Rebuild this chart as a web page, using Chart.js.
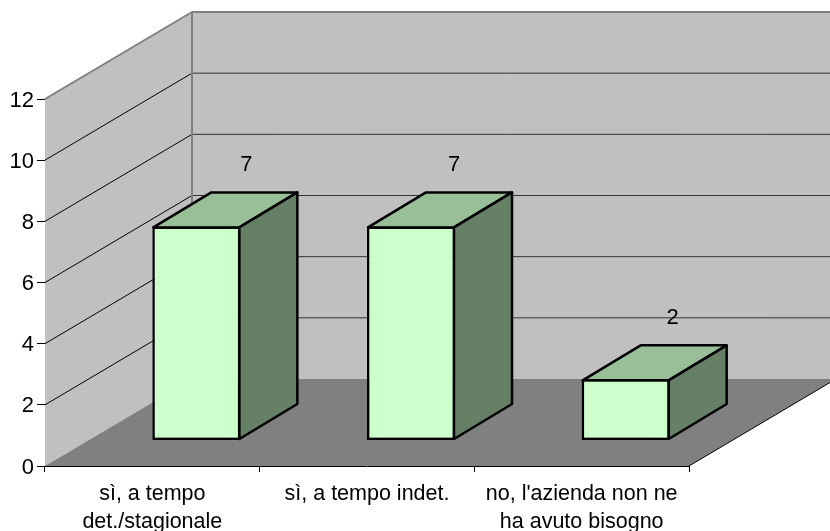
<!DOCTYPE html>
<html>
<head>
<meta charset="utf-8">
<style>
  html, body { margin: 0; padding: 0; background: #fff; }
  canvas { display: block; }
</style>
<script src="https://cdn.jsdelivr.net/npm/chart.js@4/dist/chart.umd.js"></script>
</head>
<body>
<canvas id="chart" width="830" height="531"></canvas>
<script>
const categories = [
  ["sì, a tempo", "det./stagionale"],
  "sì, a tempo indet.",
  ["no, l'azienda non ne", "ha avuto bisogno"],
];
const values = [7, 7, 2];
const yTicks = [0, 2, 4, 6, 8, 10, 12];

// 3d look: how far the back wall and the boxes are pushed
const wallDepth = { x: 147, y: -87 };
const barDepth = { x: 58, y: -35 };
const barShift = { x: 44, y: -25.5 };

const fontName = "'Liberation Sans', Arial, sans-serif";

const poly = (ctx, pts, fill, stroke, lw) => {
  ctx.beginPath();
  pts.forEach((p, i) => (i ? ctx.lineTo(p[0], p[1]) : ctx.moveTo(p[0], p[1])));
  ctx.closePath();
  if (fill) {
    ctx.fillStyle = fill;
    ctx.fill();
  }
  if (stroke) {
    ctx.strokeStyle = stroke;
    ctx.lineWidth = lw;
    ctx.stroke();
  }
};

const line = (ctx, x1, y1, x2, y2, color, lw) => {
  ctx.beginPath();
  ctx.moveTo(x1, y1);
  ctx.lineTo(x2, y2);
  ctx.strokeStyle = color;
  ctx.lineWidth = lw;
  ctx.stroke();
};

const walls3d = {
  id: "walls3d",
  beforeDatasetsDraw(chart) {
    const { ctx, chartArea: a, scales } = chart;
    const y = scales.y;
    const dx = wallDepth.x, dy = wallDepth.y;
    const y0 = y.getPixelForValue(0);
    const yMax = y.getPixelForValue(12);
    ctx.save();
    // left wall + back wall
    poly(ctx, [[a.left, yMax], [a.left + dx, yMax + dy], [a.left + dx, y0 + dy], [a.left, y0]], "#c0c0c0");
    poly(ctx, [[a.left + dx, yMax + dy], [a.right + dx, yMax + dy], [a.right + dx, y0 + dy], [a.left + dx, y0 + dy]], "#c0c0c0");
    // floor
    poly(ctx, [[a.left, y0], [a.right, y0], [a.right + dx, y0 + dy], [a.left + dx, y0 + dy]], "#808080");
    line(ctx, a.right, y0, a.right + dx, y0 + dy, "#000", 1);
    // grid lines
    yTicks.forEach((t) => {
      if (t === 0 || t === 12) return;
      const p = y.getPixelForValue(t);
      line(ctx, a.left, p, a.left + dx, p + dy, "#000", 1);
      line(ctx, a.left + dx, p + dy, a.right + dx, p + dy, "#333", 1);
    });
    // wall borders
    line(ctx, a.left, yMax, a.left + dx, yMax + dy, "#808080", 2);
    line(ctx, a.left + dx, yMax + dy, a.right + dx, yMax + dy, "#808080", 2);
    line(ctx, a.left + dx, yMax + dy, a.left + dx, y0 + dy, "#808080", 2);
    ctx.restore();
  },
  beforeDatasetDraw(chart, args) {
    const { ctx } = chart;
    ctx.save();
    ctx.translate(barShift.x, barShift.y);
    ctx.lineJoin = "round";
    args.meta.data.forEach((el) => {
      const half = el.width / 2;
      const l = el.x - half + 1, r = el.x + half - 1;
      const dx = barDepth.x, dy = barDepth.y;
      poly(ctx, [[l, el.y + 1], [r, el.y + 1], [r + dx, el.y + 1 + dy], [l + dx, el.y + 1 + dy]], "#99bf99", "#000", 2.5);
      poly(ctx, [[r, el.y + 1], [r + dx, el.y + 1 + dy], [r + dx, el.base - 1 + dy], [r, el.base - 1]], "#668066", "#000", 2.5);
    });
  },
  afterDatasetDraw(chart) {
    chart.ctx.restore();
  },
  afterDatasetsDraw(chart) {
    const { ctx, scales } = chart;
    const meta = chart.getDatasetMeta(0);
    const nudge = [3, -4, 0]; // the value labels are not evenly placed over the boxes
    ctx.save();
    ctx.fillStyle = "#000";
    ctx.font = "22px " + fontName;
    ctx.textBaseline = "middle";
    // value labels, floating above the boxes
    ctx.textAlign = "center";
    meta.data.forEach((el, i) => {
      ctx.fillText(String(values[i]), el.x + barShift.x + 47 + nudge[i], el.y + barShift.y - 61);
    });
    // y labels sit a little lower than chart.js would put them
    ctx.textAlign = "right";
    yTicks.forEach((t) => {
      ctx.fillText(String(t), scales.y.left + 34, scales.y.getPixelForValue(t) + 1.5);
    });
    ctx.restore();
  },
};

new Chart(document.getElementById("chart"), {
  type: "bar",
  data: {
    labels: categories,
    datasets: [
      {
        data: values,
        backgroundColor: "#ccffcc",
        borderColor: "#000",
        borderWidth: 2.5,
        borderSkipped: false,
        barPercentage: 0.41,
        categoryPercentage: 1,
        clip: false,
      },
    ],
  },
  plugins: [walls3d],
  options: {
    responsive: false,
    animation: false,
    devicePixelRatio: 1,
    layout: { padding: { top: 99, right: 141, left: 0, bottom: 0 } },
    plugins: { legend: { display: false }, tooltip: { enabled: false } },
    scales: {
      x: {
        afterFit: (s) => { s.height = 65; },
        border: { color: "#000", width: 1 },
        grid: { drawOnChartArea: false, color: "#000", tickLength: 6 },
        ticks: {
          color: "#000",
          padding: 9,
          maxRotation: 0,
          autoSkip: false,
          font: { family: fontName, size: 21.5, lineHeight: 1.26 },
        },
      },
      y: {
        min: 0,
        max: 12,
        afterFit: (s) => { s.width = 45; },
        afterBuildTicks: (s) => { s.ticks = yTicks.map((v) => ({ value: v })); },
        border: { color: "#000", width: 1 },
        grid: { drawOnChartArea: false, color: "#000", tickLength: 8 },
        ticks: { display: false },
      },
    },
  },
});
</script>
</body>
</html>
